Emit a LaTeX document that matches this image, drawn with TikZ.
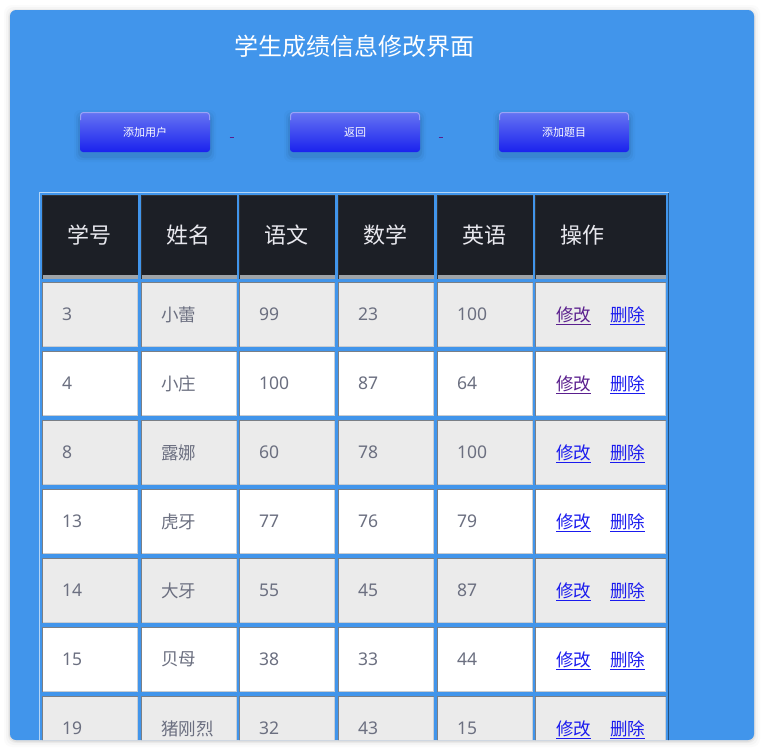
\documentclass[tikz,border=0pt]{standalone}
\usepackage{fontspec}
\setmainfont{Noto Sans CJK SC}
\newfontfamily\digitfont{Noto Sans}
\definecolor{panelblue}{HTML}{4195EB}
\definecolor{headdark}{HTML}{1C1F26}
\definecolor{headstrip}{HTML}{9EA3A8}
\definecolor{rowgray}{HTML}{EBEBEB}
\definecolor{celltext}{HTML}{6B6F80}
\definecolor{headtext}{HTML}{E8E8EE}
\definecolor{linkblue}{HTML}{1A1AEE}
\definecolor{linkvisited}{HTML}{5A1F8E}
\definecolor{btntop}{HTML}{6674F2}
\definecolor{btnbot}{HTML}{1A22EE}
\definecolor{celldarkc}{HTML}{7A7F86}
\definecolor{celllightc}{HTML}{C9CDD2}
\tikzset{
  celldark/.style={draw=celldarkc,line width=1pt},
  celllight/.style={draw=celllightc,line width=1pt},
  headtxt/.style={anchor=west,text=headtext,font=\fontsize{22}{26}\selectfont,inner sep=0pt},
  bodytxt/.style={anchor=west,text=celltext,font=\fontsize{17.5}{21}\selectfont,inner sep=0pt},
  numtxt/.style={anchor=west,text=celltext,font=\digitfont\fontsize{17.5}{21}\selectfont,inner sep=0pt},
  btntxt/.style={text=white,font=\fontsize{11}{13}\selectfont,inner sep=0pt},
  btnbox/.style={rounded corners=3pt,top color=btntop,bottom color=btnbot},
  dashmark/.style={draw=linkvisited,line width=1pt},
}
\begin{document}
\begin{tikzpicture}[x=1pt,y=-1pt]
\useasboundingbox (0,0) rectangle (764,750);
\fill[white] (0,0) rectangle (764,750);
% panel shadow
\foreach \e/\o in {6/0.015,4/0.025,2/0.04,1/0.05}{
  \fill[black,opacity=\o,rounded corners=8] (10-\e,10-\e+1) rectangle (754+\e,740+\e+1);
}
\fill[panelblue,rounded corners=6] (10,10) rectangle (754,740);
% title
\node[text=white,font=\fontsize{24}{28}\selectfont,inner sep=0pt] (title) at (354,46) {学生成绩信息修改界面};
% buttons
\foreach \nm/\xs/\lab in {b1/80/添加用户,b2/290/返回,b3/499/添加题目}{
  \foreach \e/\o in {6/0.02,4/0.035,2/0.05}{
    \fill[black,opacity=\o,rounded corners=6] (\xs-\e,112-\e+4) rectangle (\xs+130+\e,152+\e+4);
  }
  \path[btnbox] (\xs,112) rectangle (\xs+130,152);
  \draw[white,opacity=0.35,line width=1pt,rounded corners=3pt] (\xs+0.5,120) -- (\xs+0.5,112.5) -- (\xs+129.5,112.5) -- (\xs+129.5,120);
  \node[btntxt] (\nm) at (\xs+65,132) {\lab};
}
\coordinate (d1a) at (229.5,137.5); \coordinate (d1b) at (234,137.5);
\coordinate (d2a) at (438.5,137.5); \coordinate (d2b) at (443,137.5);
\draw[dashmark] (d1a) -- (d1b);
\draw[dashmark] (d2a) -- (d2b);
\begin{scope}
\clip[rounded corners=6] (10,10) rectangle (754,740);
% table outer border
\draw[draw=white!60!panelblue,line width=1pt] (39.5,760) -- (39.5,192.5) -- (668.5,192.5);
\draw[draw=black!45!panelblue,line width=1.2pt] (668.8,192.5) -- (668.8,760);
% header
\foreach \xs/\xe/\h [count=\k] in {42/138/学号,141/237/姓名,239/335/语文,338/434/数学,437/533/英语,535/666/操作}{
  \fill[headdark] (\xs,195) rectangle (\xe,279);
  \fill[headstrip] (\xs,275) rectangle (\xe,279);
  \draw[draw=black!60!celldarkc,line width=1pt] (\xs+0.5,279) -- (\xs+0.5,195.5) -- (\xe,195.5);
  \node[headtxt] (h\k) at (\xs+25,235) {\h};
}
% body
\foreach \va/\vb/\vc/\vd/\ve [count=\r] in {3/小蕾/99/23/100,4/小庄/100/87/64,8/露娜/60/78/100,13/虎牙/77/76/79,14/大牙/55/45/87,15/贝母/38/33/44,19/猪刚烈/32/43/15}{
  \pgfmathsetmacro{\yt}{282+69*(\r-1)}
  \pgfmathsetmacro{\yb}{\yt+65}
  \pgfmathsetmacro{\ym}{\yt+32.5}
  \ifodd\r \def\rc{rowgray}\else\def\rc{white}\fi
  \ifnum\r<3 \def\lc{linkvisited}\else\def\lc{linkblue}\fi
  \foreach \xs/\xe in {42/138,141/237,239/335,338/434,437/533,535/666}{
    \fill[\rc] (\xs,\yt) rectangle (\xe,\yb);
    \draw[celllight] (\xs,\yb-0.5) -- (\xe-0.5,\yb-0.5) -- (\xe-0.5,\yt);
    \draw[celldark] (\xs+0.5,\yb) -- (\xs+0.5,\yt+0.5) -- (\xe,\yt+0.5);
  }
  \node[numtxt] (r\r c1) at (62,\ym) {\va};
  \node[bodytxt] (r\r c2) at (161,\ym) {\vb};
  \node[numtxt] (r\r c3) at (259,\ym) {\vc};
  \node[numtxt] (r\r c4) at (358,\ym) {\vd};
  \node[numtxt] (r\r c5) at (457,\ym) {\ve};
  \node[bodytxt,text=\lc] (r\r e) at (556,\ym) {修改};
  \node[bodytxt,text=linkblue] (r\r d) at (610,\ym) {删除};
  \draw[draw=\lc,line width=1pt] ([yshift=-2pt]r\r e.south west) -- ([yshift=-2pt]r\r e.south east);
  \draw[draw=linkblue,line width=1pt] ([yshift=-2pt]r\r d.south west) -- ([yshift=-2pt]r\r d.south east);
}
\end{scope}
\end{tikzpicture}
\end{document}
